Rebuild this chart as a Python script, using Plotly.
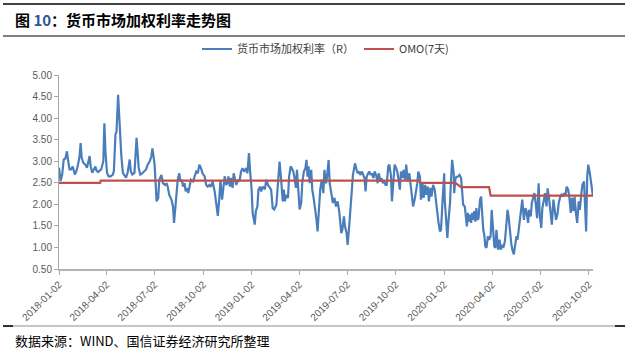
import plotly.graph_objects as go

# ---------------- data ----------------
rate_dates = [
    "2018-01-02","2018-01-05","2018-01-08","2018-01-11","2018-01-14","2018-01-17","2018-01-19","2018-01-22","2018-01-25","2018-01-28",
    "2018-02-01","2018-02-04","2018-02-07","2018-02-10","2018-02-12","2018-02-14","2018-02-17","2018-02-21","2018-02-24","2018-02-26",
    "2018-03-01","2018-03-03","2018-03-06","2018-03-09","2018-03-12","2018-03-14","2018-03-17","2018-03-20","2018-03-23","2018-03-27",
    "2018-03-29","2018-03-31","2018-04-03","2018-04-06","2018-04-10","2018-04-14","2018-04-16","2018-04-19","2018-04-21","2018-04-24",
    "2018-04-26","2018-04-27","2018-04-30","2018-05-03","2018-05-06","2018-05-09","2018-05-12","2018-05-16","2018-05-18","2018-05-21",
    "2018-05-25","2018-05-29","2018-06-02","2018-06-05","2018-06-08","2018-06-12","2018-06-16","2018-06-19","2018-06-23","2018-06-26",
    "2018-06-28","2018-07-02","2018-07-04","2018-07-06","2018-07-09","2018-07-11","2018-07-15","2018-07-18","2018-07-22","2018-07-25",
    "2018-07-27","2018-07-30","2018-08-03","2018-08-06","2018-08-08","2018-08-10","2018-08-13","2018-08-15","2018-08-18","2018-08-20",
    "2018-08-23","2018-08-25","2018-08-28","2018-08-30","2018-09-02","2018-09-04","2018-09-07","2018-09-09","2018-09-13","2018-09-16",
    "2018-09-19","2018-09-22","2018-09-25","2018-09-28","2018-10-01","2018-10-05","2018-10-08","2018-10-11","2018-10-14","2018-10-17",
    "2018-10-20","2018-10-24","2018-10-27","2018-10-30","2018-11-02","2018-11-04","2018-11-07","2018-11-09","2018-11-12","2018-11-15",
    "2018-11-17","2018-11-19","2018-11-22","2018-11-24","2018-11-27","2018-11-29","2018-12-02","2018-12-04","2018-12-07","2018-12-10",
    "2018-12-13","2018-12-16","2018-12-19","2018-12-23","2018-12-25","2018-12-28","2018-12-30",
    "2019-01-02","2019-01-04","2019-01-08","2019-01-10","2019-01-13","2019-01-15","2019-01-18","2019-01-20","2019-01-23","2019-01-27",
    "2019-01-30","2019-02-02","2019-02-05","2019-02-08","2019-02-11","2019-02-14","2019-02-18","2019-02-21","2019-02-22","2019-02-24",
    "2019-02-27","2019-03-02","2019-03-04","2019-03-06","2019-03-09","2019-03-12","2019-03-14","2019-03-17","2019-03-19","2019-03-22",
    "2019-03-24","2019-03-27","2019-03-29","2019-04-01","2019-04-03","2019-04-06","2019-04-08","2019-04-11","2019-04-14","2019-04-16",
    "2019-04-18","2019-04-20","2019-04-22","2019-04-25","2019-04-27","2019-04-30","2019-05-02","2019-05-05","2019-05-07","2019-05-10",
    "2019-05-12","2019-05-15","2019-05-18","2019-05-20","2019-05-23","2019-05-25","2019-05-28","2019-05-30","2019-06-02","2019-06-05",
    "2019-06-08","2019-06-11","2019-06-14","2019-06-17","2019-06-21","2019-06-23","2019-06-26","2019-06-28","2019-07-01","2019-07-03",
    "2019-07-06","2019-07-08","2019-07-11","2019-07-13","2019-07-17","2019-07-20","2019-07-22","2019-07-25","2019-07-27","2019-07-30",
    "2019-08-01","2019-08-04","2019-08-06","2019-08-08","2019-08-11","2019-08-13","2019-08-16","2019-08-18","2019-08-21","2019-08-23",
    "2019-08-26","2019-08-29","2019-08-31","2019-09-03","2019-09-05","2019-09-08","2019-09-10","2019-09-13","2019-09-15","2019-09-18",
    "2019-09-20","2019-09-23","2019-09-25","2019-09-28","2019-09-30","2019-10-03","2019-10-05","2019-10-08","2019-10-10","2019-10-12",
    "2019-10-15","2019-10-17","2019-10-20","2019-10-22","2019-10-25","2019-10-28","2019-10-30","2019-11-02","2019-11-04","2019-11-07",
    "2019-11-09","2019-11-12","2019-11-14","2019-11-17","2019-11-19","2019-11-22","2019-11-24","2019-11-27","2019-11-29","2019-12-02",
    "2019-12-04","2019-12-07","2019-12-09","2019-12-12","2019-12-15","2019-12-17","2019-12-20","2019-12-22","2019-12-25","2019-12-27",
    "2019-12-30",
    "2020-01-02","2020-01-03","2020-01-06","2020-01-08","2020-01-10","2020-01-13","2020-01-15","2020-01-17","2020-01-20","2020-01-21",
    "2020-01-23","2020-01-25","2020-01-28","2020-01-31","2020-02-03","2020-02-05","2020-02-07","2020-02-10","2020-02-12","2020-02-14",
    "2020-02-16","2020-02-18","2020-02-20","2020-02-22","2020-02-24","2020-02-26","2020-02-28","2020-03-01","2020-03-03","2020-03-05",
    "2020-03-07","2020-03-10","2020-03-12","2020-03-14","2020-03-16","2020-03-18","2020-03-20","2020-03-22","2020-03-25","2020-03-27",
    "2020-03-30","2020-04-01","2020-04-03","2020-04-06","2020-04-08","2020-04-10","2020-04-13","2020-04-16","2020-04-18","2020-04-21",
    "2020-04-23","2020-04-26","2020-04-28","2020-05-01","2020-05-03","2020-05-05","2020-05-08","2020-05-10","2020-05-13","2020-05-15",
    "2020-05-18","2020-05-20","2020-05-22","2020-05-25","2020-05-27","2020-05-29","2020-06-01","2020-06-04","2020-06-06","2020-06-09",
    "2020-06-11","2020-06-14","2020-06-16","2020-06-19","2020-06-21","2020-06-24","2020-06-26","2020-06-29","2020-07-01","2020-07-04",
    "2020-07-06","2020-07-09","2020-07-11","2020-07-14","2020-07-16","2020-07-19","2020-07-22","2020-07-24","2020-07-27","2020-07-29",
    "2020-08-01","2020-08-04","2020-08-06","2020-08-09","2020-08-11","2020-08-14","2020-08-16","2020-08-19","2020-08-21","2020-08-24",
    "2020-08-26","2020-08-29","2020-08-31","2020-09-03","2020-09-05","2020-09-08","2020-09-10","2020-09-13","2020-09-15","2020-09-18",
    "2020-09-20","2020-09-23","2020-09-25","2020-09-27","2020-09-29","2020-10-01","2020-10-04","2020-10-07","2020-10-10",
]
rate_values = [
    2.85,2.54,2.69,3.04,3.06,3.23,3.04,2.81,2.81,2.88,
    2.69,2.77,2.92,3.12,3.42,3.08,2.96,2.92,2.85,3.00,
    3.12,2.88,2.73,2.81,2.88,2.78,2.75,2.78,2.81,3.00,
    3.88,3.23,2.73,2.65,2.65,2.69,2.77,3.62,3.69,4.54,
    4.00,3.77,3.15,2.73,2.68,2.62,2.73,3.04,2.77,2.69,
    2.73,3.54,2.85,2.69,2.71,2.75,2.81,2.92,3.00,3.11,
    3.30,2.95,2.34,2.07,2.14,2.57,2.68,2.49,2.45,2.49,
    2.41,2.22,2.11,1.95,1.57,1.92,2.34,2.57,2.72,2.53,
    2.57,2.41,2.49,2.30,2.38,2.26,2.45,2.57,2.53,2.68,
    2.76,2.72,2.92,2.84,2.72,2.65,2.45,2.41,2.45,2.41,
    2.53,2.30,1.99,1.73,2.18,2.57,2.11,2.34,2.65,2.45,
    2.49,2.65,2.41,2.61,2.38,2.72,2.53,2.45,2.57,2.53,
    2.76,2.84,2.76,2.84,2.72,3.19,2.80,
    2.34,1.80,1.53,1.84,1.95,2.34,2.41,2.30,2.41,2.35,
    2.57,2.45,2.38,2.34,1.91,1.88,1.99,2.49,2.76,2.99,
    2.57,2.07,2.34,2.07,2.22,2.15,2.64,2.88,2.84,2.76,
    2.64,2.38,2.80,2.18,1.88,2.03,2.49,2.76,2.84,3.03,
    2.64,2.88,2.49,2.80,2.34,2.11,1.95,1.64,1.37,1.95,
    2.34,2.57,2.26,2.80,2.49,2.64,3.03,2.49,2.22,2.03,
    2.15,1.95,2.07,1.84,1.33,1.41,1.72,1.49,1.33,1.06,
    1.50,1.95,2.34,2.68,2.95,2.80,2.72,2.76,2.68,2.76,
    2.68,2.61,2.30,2.64,2.72,2.76,2.68,2.72,2.61,2.76,
    2.68,2.49,2.72,2.53,2.61,2.49,2.53,2.45,2.45,2.88,
    2.92,2.68,2.07,2.57,2.92,2.84,2.76,2.53,2.34,2.76,
    2.61,2.80,2.57,2.92,2.53,2.72,2.49,2.22,1.95,2.11,
    2.26,2.49,2.76,2.64,2.11,2.49,2.15,2.45,2.22,2.41,
    2.07,2.38,2.18,2.45,2.34,2.11,1.84,1.60,1.37,1.41,
    2.11,
    2.72,2.11,1.49,1.22,1.60,2.03,2.57,3.03,2.72,2.26,
    2.57,2.64,2.64,2.68,2.61,2.34,1.99,1.95,1.76,1.49,
    1.80,1.60,1.76,1.57,1.80,1.64,1.84,1.60,1.91,1.64,
    1.68,2.11,2.18,1.72,1.41,1.29,1.02,0.99,1.26,1.18,
    1.26,1.87,1.49,1.02,0.99,1.41,0.95,1.18,0.95,1.06,
    0.99,1.14,1.41,1.87,1.72,1.41,1.10,0.95,0.84,1.02,
    1.26,1.18,1.41,1.72,2.03,2.11,1.64,1.91,1.84,1.57,
    1.87,1.72,2.03,2.22,2.26,1.95,1.68,2.49,1.76,1.45,
    1.91,2.11,2.26,1.95,2.37,2.11,1.72,1.53,2.11,1.95,
    1.64,1.80,2.03,2.18,2.22,2.18,2.26,2.22,2.41,2.34,
    2.18,1.80,2.15,1.84,2.18,1.76,1.57,2.07,1.87,2.26,
    2.45,2.53,1.76,1.37,2.64,2.92,2.72,2.45,2.18,
]

omo_dates = ["2018-01-02", "2018-03-21", "2018-03-22", "2019-11-15", "2019-11-18",
             "2020-01-23", "2020-02-03", "2020-03-27", "2020-03-30", "2020-10-10"]
omo_values = [2.50, 2.50, 2.55, 2.55, 2.50, 2.50, 2.40, 2.40, 2.20, 2.20]

tick_labels = ["2018-01-02", "2018-04-02", "2018-07-02", "2018-10-02", "2019-01-02", "2019-04-02",
               "2019-07-02", "2019-10-02", "2020-01-02", "2020-04-02", "2020-07-02", "2020-10-02"]
y_ticks = [0.5, 1.0, 1.5, 2.0, 2.5, 3.0, 3.5, 4.0, 4.5, 5.0]

series_names = ["货币市场加权利率（R）", "OMO(7天)"]
title_text = "<b>图 <span style='color:#2F5597'>10</span>：货币市场加权利率走势图</b>"
source_text = "数据来源：WIND、国信证券经济研究所整理"

# ---------------- layout geometry ----------------
FW, FH = 628, 350
ML, MR, MT, MB = 59, 35, 75, 81
PW, PH = FW - ML - MR, FH - MT - MB


def px_x(px):
    return (px - ML) / PW


def px_y(py):
    return (FH - MB - py) / PH


FONT = "Liberation Sans, Arial, Noto Sans CJK SC, sans-serif"
CJK = "Noto Sans CJK SC, Liberation Sans, sans-serif"

fig = go.Figure()
fig.add_trace(go.Scatter(x=rate_dates, y=rate_values, mode="lines", name=series_names[0],
                         line=dict(color="#4A7EBB", width=2.2)))
fig.add_trace(go.Scatter(x=omo_dates, y=omo_values, mode="lines", name=series_names[1],
                         line=dict(color="#C0504D", width=2.2)))

shapes = [
    dict(type="line", xref="paper", yref="paper", x0=px_x(3), x1=px_x(625), y0=px_y(4), y1=px_y(4),
         line=dict(color="#000000", width=1.5)),
    dict(type="line", xref="paper", yref="paper", x0=px_x(3), x1=px_x(625), y0=px_y(36), y1=px_y(36),
         line=dict(color="#000000", width=1)),
    dict(type="line", xref="paper", yref="paper", x0=px_x(3), x1=px_x(625), y0=px_y(326), y1=px_y(326),
         line=dict(color="#8C8C8C", width=1)),
    dict(type="line", xref="paper", yref="paper", x0=px_x(3), x1=px_x(13), y0=px_y(326), y1=px_y(326),
         line=dict(color="#000000", width=1.5)),
    dict(type="line", xref="paper", yref="paper", x0=px_x(615), x1=px_x(625), y0=px_y(326), y1=px_y(326),
         line=dict(color="#000000", width=1.5)),
]

annotations = [
    dict(text=title_text, xref="paper", yref="paper", x=px_x(13), y=px_y(20), xanchor="left", yanchor="middle",
         showarrow=False, font=dict(family=CJK, size=15, color="#000000")),
    dict(text=source_text, xref="paper", yref="paper", x=px_x(13), y=px_y(340), xanchor="left", yanchor="middle",
         showarrow=False, font=dict(family=CJK, size=13, color="#000000")),
]

fig.update_layout(
    width=FW, height=FH,
    margin=dict(l=ML, r=MR, t=MT, b=MB, pad=0),
    paper_bgcolor="#FFFFFF", plot_bgcolor="#FFFFFF",
    font=dict(family=FONT, size=10, color="#595959"),
    showlegend=True,
    legend=dict(orientation="h", x=px_x(197), y=px_y(49), xanchor="left", yanchor="middle",
                font=dict(family=CJK, size=11, color="#404040"), bgcolor="rgba(0,0,0,0)",
                itemwidth=30, tracegroupgap=0),
    shapes=shapes,
    annotations=annotations,
    xaxis=dict(type="date", range=["2018-01-02", "2020-10-10"], tickvals=tick_labels, ticktext=tick_labels,
               tickangle=-45, ticks="outside", ticklen=4, tickcolor="#A6A6A6",
               showline=True, linecolor="#B3B3B3", linewidth=1.5, showgrid=False, zeroline=False,
               tickfont=dict(family=FONT, size=10, color="#595959")),
    yaxis=dict(range=[0.5, 5.0], tickvals=y_ticks, tickformat=".2f", ticks="outside", ticklen=4,
               tickcolor="#A6A6A6", showline=True, linecolor="#A6A6A6", linewidth=1,
               showgrid=False, zeroline=False, tickfont=dict(family=FONT, size=10, color="#595959")),
)

fig.write_html("out.html")
